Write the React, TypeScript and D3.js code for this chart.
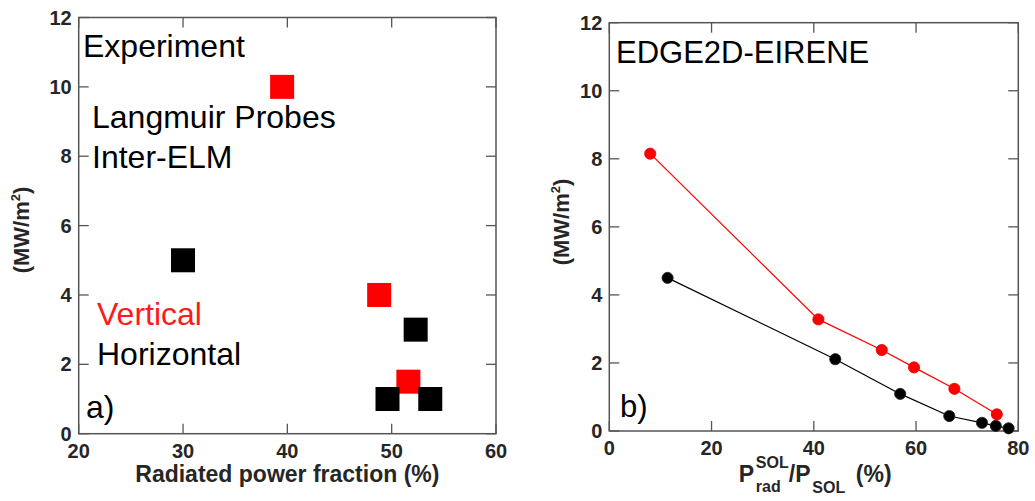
import React from "react";
import * as d3 from "d3";

// ---------- data ----------
const expVerticalX = [39.5, 48.8, 51.6];
const expVerticalY = [10, 4, 1.5];
const expHorizontalX = [30, 52.3, 49.6, 53.7];
const expHorizontalY = [5, 3, 1, 1];

const simVerticalX = [8.0, 40.9, 53.3, 59.6, 67.5, 75.8];
const simVerticalY = [8.15, 3.28, 2.38, 1.87, 1.24, 0.49];
const simHorizontalX = [11.4, 44.2, 56.9, 66.5, 72.9, 75.6, 78.1];
const simHorizontalY = [4.5, 2.11, 1.09, 0.44, 0.24, 0.15, 0.08];

const leftXTicks = [20, 30, 40, 50, 60];
const rightXTicks = [0, 20, 40, 60, 80];
const yTicks = [0, 2, 4, 6, 8, 10, 12];

const W = 1035;
const H = 501;
const FRAME = "#555";
const LABEL = "#262626";
const TICKFONT = "'Liberation Sans', Arial, Helvetica, sans-serif";
const TEXTFONT = "'Liberation Sans', Arial, Helvetica, sans-serif";

type Panel = {
  x: d3.ScaleLinear<number, number>;
  y: d3.ScaleLinear<number, number>;
  xTicks: number[];
};

function Frame({ x, y, xTicks }: Panel) {
  const [x0, x1] = x.range();
  const [y0, y1] = y.range(); // y0 bottom, y1 top
  const tl = 10;
  return (
    <g>
      {xTicks.map((t) => (
        <g key={"xt" + t}>
          <line x1={x(t)} x2={x(t)} y1={y0} y2={y0 - tl} stroke={FRAME} strokeWidth={1.3} />
          <line x1={x(t)} x2={x(t)} y1={y1} y2={y1 + tl} stroke={FRAME} strokeWidth={1.3} />
          <text
            x={x(t)}
            y={y0 + 24}
            textAnchor="middle"
            fontFamily={TICKFONT}
            fontWeight="bold"
            fontSize={20}
            fill={LABEL}
          >
            {t}
          </text>
        </g>
      ))}
      {yTicks.map((t) => (
        <g key={"yt" + t}>
          <line x1={x0} x2={x0 + tl} y1={y(t)} y2={y(t)} stroke={FRAME} strokeWidth={1.3} />
          <line x1={x1} x2={x1 - tl} y1={y(t)} y2={y(t)} stroke={FRAME} strokeWidth={1.3} />
          <text
            x={x0 - 7}
            y={y(t) + 7}
            textAnchor="end"
            fontFamily={TICKFONT}
            fontWeight="bold"
            fontSize={20}
            fill={LABEL}
          >
            {t}
          </text>
        </g>
      ))}
      <rect
        x={x0}
        y={y1}
        width={x1 - x0}
        height={y0 - y1}
        fill="none"
        stroke={FRAME}
        strokeWidth={1.5}
      />
    </g>
  );
}

function YLabel({ cx, cy }: { cx: number; cy: number }) {
  return (
    <text
      transform={`translate(${cx},${cy}) rotate(-90)`}
      textAnchor="middle"
      fontFamily={TICKFONT}
      fontWeight="bold"
      fontSize={22}
      fill={LABEL}
    >
      (MW/m
      <tspan fontSize={13} dy={-9}>
        2
      </tspan>
      <tspan dy={9}>)</tspan>
    </text>
  );
}

export default function App() {
  // left panel scales
  const lx = d3.scaleLinear().domain([20, 60]).range([78.7, 496]);
  const ly = d3.scaleLinear().domain([0, 12]).range([433.7, 17.5]);
  // right panel scales
  const rx = d3.scaleLinear().domain([0, 80]).range([609.3, 1018.3]);
  const ry = d3.scaleLinear().domain([0, 12]).range([431, 22.7]);

  const sq = 24;

  const lineGen = (xs: number[], ys: number[]) =>
    d3
      .line<number>()
      .x((_, i) => rx(xs[i]))
      .y((_, i) => ry(ys[i]))(xs);

  const lCenter = (78.7 + 496) / 2;
  const rCenter = (609.3 + 1018.3) / 2;
  const x0 = rCenter - 75;

  return (
    <svg
      width={W}
      height={H}
      style={{ position: "absolute", left: 0, top: 0, background: "#fff" }}
      xmlns="http://www.w3.org/2000/svg"
    >
      <rect x={0} y={0} width={W} height={H} fill="#fff" />

      {/* ---------- left panel ---------- */}
      <Frame x={lx} y={ly} xTicks={leftXTicks} />
      {expVerticalX.map((v, i) => (
        <rect
          key={"ev" + i}
          x={lx(v) - sq / 2}
          y={ly(expVerticalY[i]) - sq / 2}
          width={sq}
          height={sq}
          fill="#ff0000"
        />
      ))}
      {expHorizontalX.map((v, i) => (
        <rect
          key={"eh" + i}
          x={lx(v) - sq / 2}
          y={ly(expHorizontalY[i]) - sq / 2}
          width={sq}
          height={sq}
          fill="#000"
        />
      ))}
      <g fontFamily={TEXTFONT} fontSize={32} fill="#000">
        <text x={83} y={57}>Experiment</text>
        <text x={92} y={128}>Langmuir Probes</text>
        <text x={92} y={168}>Inter-ELM</text>
        <text x={97} y={325} fill="#ff1a1a">Vertical</text>
        <text x={97} y={365}>Horizontal</text>
        <text x={86} y={418}>a)</text>
      </g>
      <text
        x={lCenter}
        y={482}
        textAnchor="middle"
        fontFamily={TICKFONT}
        fontWeight="bold"
        fontSize={23}
        fill={LABEL}
      >
        Radiated power fraction (%)
      </text>
      <YLabel cx={28.5} cy={230} />

      {/* ---------- right panel ---------- */}
      <Frame x={rx} y={ry} xTicks={rightXTicks} />
      <path d={lineGen(simHorizontalX, simHorizontalY) || ""} fill="none" stroke="#000" strokeWidth={1.2} />
      {simHorizontalX.map((v, i) => (
        <circle
          key={"sh" + i}
          cx={rx(v)}
          cy={ry(simHorizontalY[i])}
          r={5.6}
          fill="#000"
          stroke="#222"
          strokeWidth={0.8}
        />
      ))}
      <path d={lineGen(simVerticalX, simVerticalY) || ""} fill="none" stroke="#ff0000" strokeWidth={1.2} />
      {simVerticalX.map((v, i) => (
        <circle
          key={"sv" + i}
          cx={rx(v)}
          cy={ry(simVerticalY[i])}
          r={5.6}
          fill="#ff0000"
          stroke="#e00000"
          strokeWidth={0.8}
        />
      ))}
      <g fontFamily={TEXTFONT} fontSize={31} fill="#000">
        <text x={616} y={63}>EDGE2D-EIRENE</text>
        <text x={620} y={417}>b)</text>
      </g>
      <g fontFamily={TICKFONT} fontWeight="bold" fill={LABEL}>
        <text x={x0} y={481.7} fontSize={23}>P</text>
        <text x={x0 + 17} y={468} fontSize={16}>SOL</text>
        <text x={x0 + 17} y={492} fontSize={16}>rad</text>
        <text x={x0 + 50} y={481.7} fontSize={23}>/P</text>
        <text x={x0 + 73.5} y={492.5} fontSize={16}>SOL</text>
        <text x={x0 + 117} y={481.7} fontSize={23}>(%)</text>
      </g>
      <YLabel cx={568.5} cy={222} />
    </svg>
  );
}
